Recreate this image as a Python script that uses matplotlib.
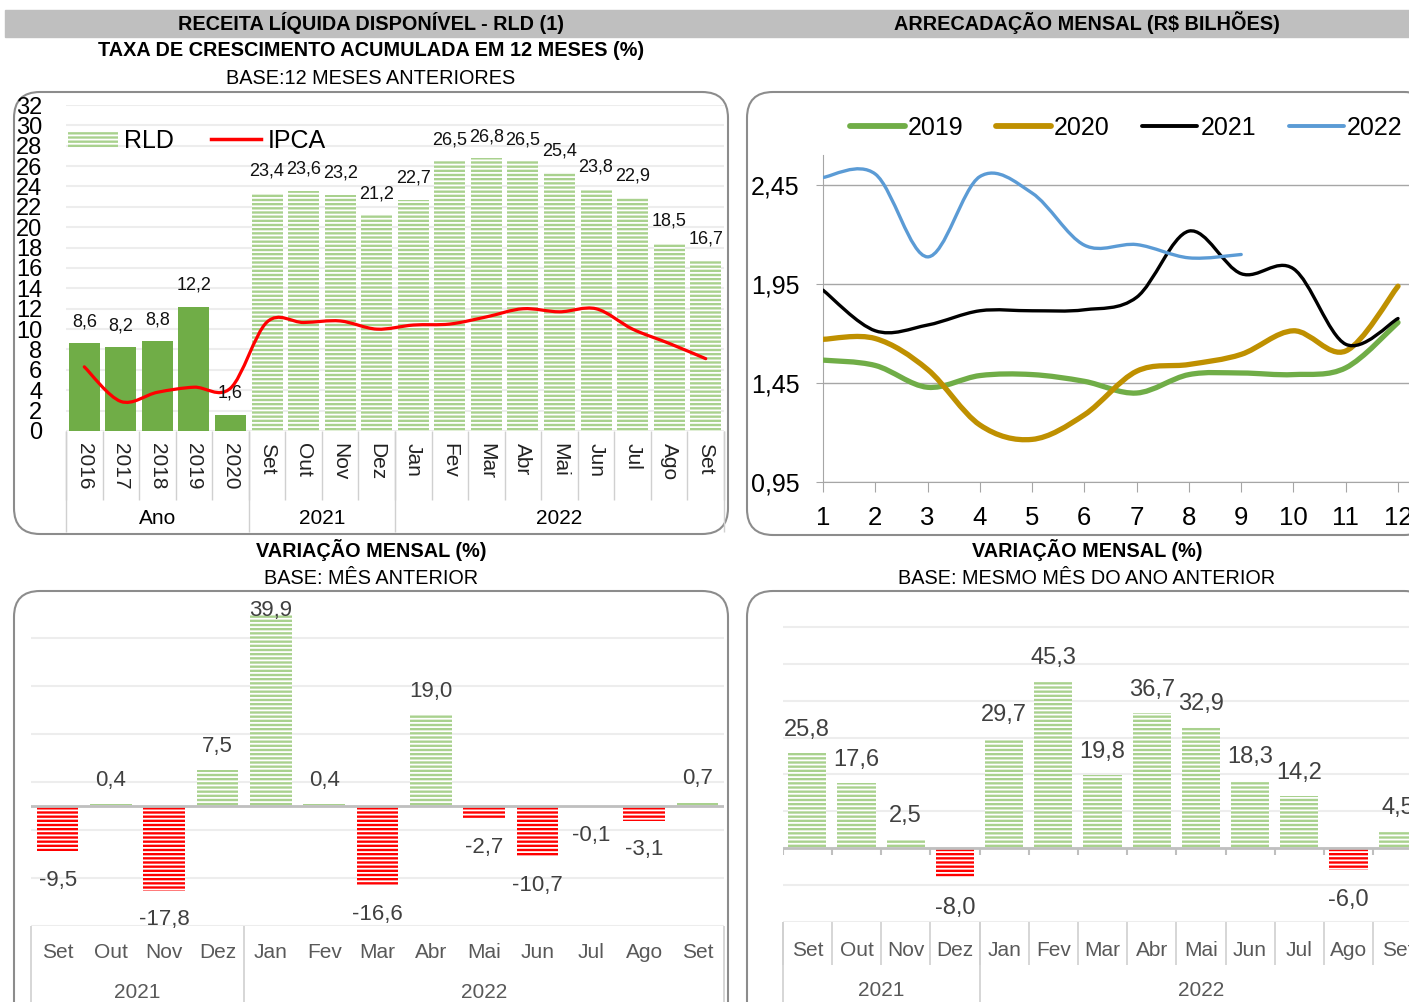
import matplotlib
matplotlib.use('Agg')
import matplotlib.pyplot as plt
from matplotlib.patches import FancyBboxPatch, Rectangle, PathPatch
from matplotlib.path import Path
from matplotlib.lines import Line2D
import numpy as np

plt.rcParams['font.family'] = ['Liberation Sans', 'DejaVu Sans']
plt.rcParams['hatch.linewidth'] = 1.3

# --- dados ---
rld_cats = ['2016', '2017', '2018', '2019', '2020', 'Set', 'Out', 'Nov', 'Dez',
            'Jan', 'Fev', 'Mar', 'Abr', 'Mai', 'Jun', 'Jul', 'Ago', 'Set']
rld_vals = [8.6, 8.2, 8.8, 12.2, 1.6, 23.4, 23.6, 23.2, 21.2,
            22.7, 26.5, 26.8, 26.5, 25.4, 23.8, 22.9, 18.5, 16.7]
ipca_vals = [6.3, 2.9, 3.8, 4.3, 4.2, 10.7, 10.65, 10.8, 10.0,
             10.4, 10.5, 11.2, 12.0, 11.7, 12.0, 10.0, 8.6, 7.1]
rld_groups = [('Ano', 0, 4), ('2021', 5, 8), ('2022', 9, 17)]

meses = list(range(1, 13))
arr_2019 = [1.565, 1.538, 1.428, 1.487, 1.492, 1.458, 1.399, 1.492, 1.50, 1.492, 1.526, 1.755]
arr_2020 = [1.670, 1.674, 1.518, 1.238, 1.165, 1.289, 1.509, 1.543, 1.594, 1.713, 1.611, 1.938]
arr_2021 = [1.918, 1.713, 1.742, 1.814, 1.814, 1.819, 1.882, 2.216, 2.001, 2.026, 1.645, 1.775]
arr_2022 = [2.487, 2.504, 2.086, 2.491, 2.408, 2.145, 2.148, 2.081, 2.098]

var_cats = ['Set', 'Out', 'Nov', 'Dez', 'Jan', 'Fev', 'Mar', 'Abr', 'Mai', 'Jun', 'Jul', 'Ago', 'Set']
var_mes = [-9.5, 0.4, -17.8, 7.5, 39.9, 0.4, -16.6, 19.0, -2.7, -10.7, -0.1, -3.1, 0.7]
var_ano = [25.8, 17.6, 2.5, -8.0, 29.7, 45.3, 19.8, 36.7, 32.9, 18.3, 14.2, -6.0, 4.5]
var_groups = [('2021', 0, 3), ('2022', 4, 12)]

VERDE = '#70AD47'
VERDE_CLARO = '#A9D18E'
VERMELHO = '#FF0000'
CINZA_GRADE = '#EDEDED'
CINZA_SEP = '#D0D0D0'

W, H = 1409, 1002
fig = plt.figure(figsize=(W / 100, H / 100), dpi=100)


def px_axes(l, t, r, b):
    ax = fig.add_axes([l / W, 1 - b / H, (r - l) / W, (b - t) / H])
    ax.patch.set_alpha(0)
    for s in ax.spines.values():
        s.set_visible(False)
    return ax


def fmt(v):
    return f'{v:.1f}'.replace('.', ',')


def smooth_path(x, y):
    pts = np.column_stack([x, y]).astype(float)
    n = len(pts)
    verts = [pts[0]]
    codes = [Path.MOVETO]
    for i in range(n - 1):
        p0 = pts[i - 1] if i > 0 else pts[i]
        p1, p2 = pts[i], pts[i + 1]
        p3 = pts[i + 2] if i + 2 < n else pts[i + 1]
        verts += [p1 + (p2 - p0) / 6, p2 - (p3 - p1) / 6, p2]
        codes += [Path.CURVE4] * 3
    return Path(verts, codes)


def panel_box(l, t, r, b):
    box = FancyBboxPatch((l / 100, (H - b) / 100), (r - l) / 100, (b - t) / 100,
                         boxstyle='round,pad=0,rounding_size=0.26',
                         transform=fig.dpi_scale_trans, facecolor='white',
                         edgecolor='#8C8C8C', lw=1.5, zorder=-5)
    fig.add_artist(box)


def ftext(x, y, s, **kw):
    fig.text(x / W, 1 - y / H, s, ha='center', va='center', **kw)


# --- cabecalhos ---
fig.add_artist(Rectangle((5 / W, 1 - 37 / H), (W - 5) / W, 27 / H,
                         transform=fig.transFigure, color='#BFBFBF', zorder=-6))
TS = 14.3
ftext(371, 23, 'RECEITA LÍQUIDA DISPONÍVEL - RLD (1)', fontsize=TS, fontweight='bold')
ftext(1087, 23, 'ARRECADAÇÃO MENSAL (R$ BILHÕES)', fontsize=TS, fontweight='bold')
ftext(371, 51, 'TAXA DE CRESCIMENTO ACUMULADA EM 12 MESES (%)', fontsize=TS, fontweight='bold')
ftext(371, 79, 'BASE:12 MESES ANTERIORES', fontsize=TS)
ftext(371, 550, 'VARIAÇÃO MENSAL (%)', fontsize=TS, fontweight='bold')
ftext(371, 578, 'BASE: MÊS ANTERIOR', fontsize=TS)
ftext(1087, 550, 'VARIAÇÃO MENSAL (%)', fontsize=TS, fontweight='bold')
ftext(1087, 578, 'BASE: MESMO MÊS DO ANO ANTERIOR', fontsize=TS)

panel_box(14, 92, 728, 534)
panel_box(747, 92, 1430, 535)
panel_box(14, 591, 728, 1030)
panel_box(747, 591, 1430, 1030)

# --- painel 1: RLD acumulada 12 meses ---
ax1 = px_axes(66, 105, 724, 431)
x1 = np.arange(len(rld_cats))
ax1.bar(x1[:5], rld_vals[:5], width=0.85, color=VERDE, zorder=2)
rld_bars = ax1.bar(x1[5:], rld_vals[5:], width=0.85, color=VERDE_CLARO, edgecolor='white',
                   linewidth=0, hatch='----', zorder=2, label='RLD')
ax1.add_patch(PathPatch(smooth_path(x1, ipca_vals), fill=False, edgecolor='red',
                        lw=2.3, zorder=3, capstyle='round'))
for xi, v in zip(x1, rld_vals):
    ax1.text(xi, v + 2.1, fmt(v), ha='center', va='center', fontsize=13, color='#111111')
ax1.set_xlim(-0.5, len(rld_cats) - 0.5)
ax1.set_ylim(0, 32)
ax1.set_yticks(range(0, 33, 2))
ax1.yaxis.grid(True, color=CINZA_GRADE, lw=1.5)
ax1.set_axisbelow(True)
ax1.tick_params(axis='y', length=0, pad=17, labelsize=17)
ax1.set_xticks(x1)
ax1.set_xticklabels(rld_cats, rotation=-90, fontsize=15, color='#222222')
ax1.tick_params(axis='x', length=0, pad=9)
ax1.set_xticks(np.arange(-0.5, len(rld_cats), 1), minor=True)
ax1.tick_params(axis='x', which='minor', length=50, color=CINZA_SEP, width=1)
tr1 = ax1.get_xaxis_transform()
ax1.vlines([-0.5, 4.5, 8.5, 17.5], 0, -(532 - 431) / 326, transform=tr1,
           color=CINZA_SEP, lw=1, clip_on=False)
for nome, a, b in rld_groups:
    ax1.text((a + b) / 2, -(519 - 431) / 326, nome, transform=tr1, ha='center',
             va='center', fontsize=15)
ax1.legend([rld_bars, Line2D([], [], color='red', lw=2.5)], ['RLD', 'IPCA'],
           loc='center left', bbox_to_anchor=(0.003, (431 - 141) / 326), ncol=2,
           frameon=False, fontsize=18, handlelength=2.0, handletextpad=0.24,
           columnspacing=1.5, borderpad=0, borderaxespad=0)

# --- painel 2: arrecadacao mensal ---
ax2 = px_axes(823, 155, 1409, 482)
series = [('2019', arr_2019, VERDE, 3.8), ('2020', arr_2020, '#BF9000', 3.8),
          ('2021', arr_2021, 'black', 2.4), ('2022', arr_2022, '#5B9BD5', 2.4)]
handles = []
for nome, vals, cor, lw in series:
    ax2.add_patch(PathPatch(smooth_path(meses[:len(vals)], vals), fill=False,
                            edgecolor=cor, lw=lw, capstyle='round', zorder=3))
    handles.append(Line2D([], [], color=cor, lw=lw + 0.4, solid_capstyle='round'))
ax2.set_xlim(1, 12.21)
ax2.set_ylim(0.95, 2.6)
yt = [0.95, 1.45, 1.95, 2.45]
ax2.set_yticks(yt)
ax2.set_yticklabels([f'{v:.2f}'.replace('.', ',') for v in yt])
ax2.yaxis.grid(True, color='#A6A6A6', lw=1)
ax2.set_axisbelow(True)
ax2.spines['left'].set_visible(True)
ax2.spines['bottom'].set_visible(True)
ax2.spines['left'].set_color('#A6A6A6')
ax2.spines['bottom'].set_color('#A6A6A6')
ax2.set_xticks(meses)
ax2.tick_params(axis='y', length=5, color='#A6A6A6', pad=12, labelsize=18)
ax2.tick_params(axis='x', length=7, color='#A6A6A6', pad=10, labelsize=18.5)
ax2.legend(handles, [s[0] for s in series], loc='center left',
           bbox_to_anchor=(27 / 586, (482 - 128) / 327), ncol=4, frameon=False,
           fontsize=18, handlelength=2.2, handletextpad=0.12, columnspacing=1.3,
           borderpad=0, borderaxespad=0)


# --- paineis 3 e 4: variacao mensal ---
def var_panel(ax, vals, ylim, ticks, off_pos, off_neg, lbl_max, box_bottom, sep_month,
              tick_zero, lw_fs=16):
    x = np.arange(len(var_cats))
    cores = [VERDE_CLARO if v >= 0 else VERMELHO for v in vals]
    ax.bar(x, vals, width=0.78, color=cores, edgecolor='white', linewidth=0,
           hatch='----', zorder=2)
    ax.axhline(0, color='#BFBFBF', lw=2, zorder=3)
    for xi, v in zip(x, vals):
        y = v + off_pos if v >= 0 else v - off_neg
        y = min(y, lbl_max)
        ax.text(xi, y, fmt(v), ha='center', va='center', fontsize=lw_fs, color='#404040')
    ax.set_xlim(-0.5, len(var_cats) - 0.5)
    ax.set_ylim(*ylim)
    ax.set_yticks(ticks)
    ax.set_yticklabels([])
    ax.tick_params(axis='y', length=0)
    ax.yaxis.grid(True, color=CINZA_GRADE, lw=1.5)
    ax.set_axisbelow(True)
    ax.set_xticks([])
    bounds = np.arange(-0.5, len(var_cats), 1)
    tr = ax.get_xaxis_transform()
    h_ax = ax.get_position().height * H
    if sep_month:
        ax.vlines(bounds, 0, -sep_month / h_ax, transform=tr, color=CINZA_SEP, lw=1.2,
                  clip_on=False)
    if tick_zero:
        ax.vlines(bounds, 0, -tick_zero, color='#BFBFBF', lw=1.5, zorder=3)
    ax.vlines([-0.5, 3.5, len(var_cats) - 0.5], 0, -box_bottom / h_ax, transform=tr,
              color=CINZA_SEP, lw=1.2, clip_on=False)
    return tr, h_ax


ax3 = px_axes(31, 605, 724, 925.5)
tr3, h3 = var_panel(ax3, var_mes, (-25, 42), [-25, -15, -5, 5, 15, 25, 35], 5.0, 6.0,
                    40.8, 90, 0, 0)
for xi, c in enumerate(var_cats):
    ax3.text(xi, -(953 - 925.5) / h3, c, transform=tr3, ha='center', va='center',
             fontsize=15, color='#595959')
for nome, a, b in var_groups:
    ax3.text((a + b) / 2, -(993 - 925.5) / h3, nome, transform=tr3, ha='center',
             va='center', fontsize=15, color='#595959')

ax4 = px_axes(782.7, 605, 1422.3, 921.6)
tr4, h4 = var_panel(ax4, var_ano, (-20, 66), list(range(-20, 61, 10)), 6.3, 8.2,
                    64, 90, 43, 1.9, lw_fs=17)
for xi, c in enumerate(var_cats):
    ax4.text(xi, -(950 - 921.6) / h4, c, transform=tr4, ha='center', va='center',
             fontsize=15, color='#595959')
for nome, a, b in var_groups:
    ax4.text((a + b) / 2, -(990 - 921.6) / h4, nome, transform=tr4, ha='center',
             va='center', fontsize=15, color='#595959')

fig.savefig('out.png', dpi=100)
